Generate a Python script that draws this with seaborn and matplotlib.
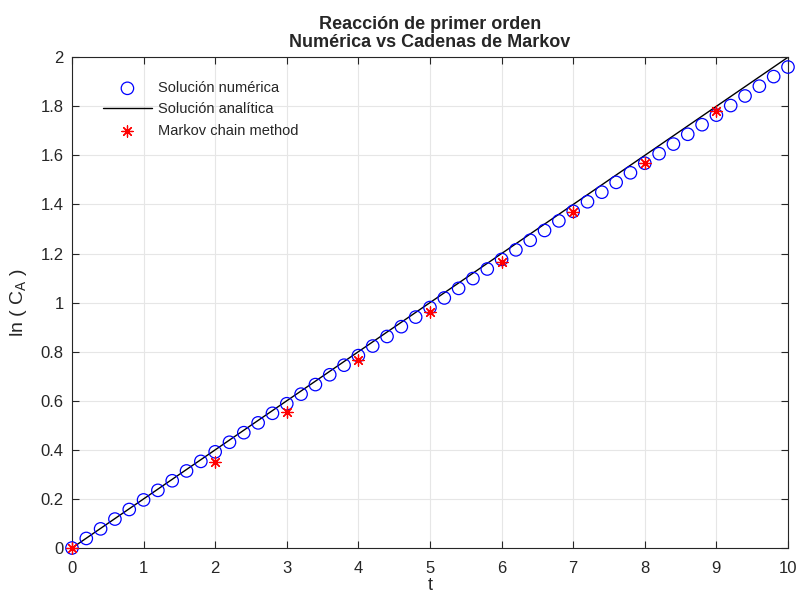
import seaborn as sns
import matplotlib.pyplot as plt
import pandas as pd

# numerical solution (t step 0.2)
t_num = [round(0.2 * i, 1) for i in range(51)]
ln_num = [0.000, 0.039, 0.078, 0.118, 0.157, 0.196, 0.235, 0.274, 0.314, 0.353,
          0.392, 0.431, 0.470, 0.510, 0.549, 0.588, 0.627, 0.666, 0.706, 0.745,
          0.784, 0.823, 0.862, 0.902, 0.941, 0.980, 1.019, 1.058, 1.098, 1.137,
          1.176, 1.215, 1.254, 1.294, 1.333, 1.372, 1.411, 1.450, 1.490, 1.529,
          1.568, 1.607, 1.646, 1.686, 1.725, 1.764, 1.803, 1.842, 1.882, 1.921,
          1.960]

# analytic solution
t_ana = [0, 2, 4, 6, 8, 10]
ln_ana = [0.0, 0.4, 0.8, 1.2, 1.6, 2.0]

# markov chain method
t_mk = [0, 2, 3, 4, 5, 6, 7, 8, 9]
ln_mk = [0.0, 0.352, 0.555, 0.765, 0.962, 1.165, 1.37, 1.568, 1.78]

num = pd.DataFrame({'t': t_num, 'ln': ln_num})
ana = pd.DataFrame({'t': t_ana, 'ln': ln_ana})
mk = pd.DataFrame({'t': t_mk, 'ln': ln_mk})

sns.set_style('whitegrid')
plt.rcParams['font.family'] = ['Liberation Sans', 'DejaVu Sans']

fig, ax = plt.subplots(figsize=(7.97, 5.96), dpi=100)
fig.subplots_adjust(left=0.0903, right=0.9887, top=0.904, bottom=0.0805)

sns.scatterplot(data=num, x='t', y='ln', ax=ax, marker='o', s=80,
                facecolors='none', edgecolor='#0000ff', linewidth=0.9,
                label='Solución numérica', zorder=3, clip_on=False)
sns.lineplot(data=ana, x='t', y='ln', ax=ax, color='black', linewidth=1.0,
             label='Solución analítica', zorder=2)
sns.scatterplot(data=mk, x='t', y='ln', ax=ax, marker=(8, 2, 0), s=65,
                color='#ff0000', edgecolor='#ff0000', linewidth=0.9,
                label='Markov chain method', zorder=4, clip_on=False)

ax.set_xlim(0, 10)
ax.set_ylim(0, 2)
ax.set_xticks(range(0, 11))
yt = [0, 0.2, 0.4, 0.6, 0.8, 1, 1.2, 1.4, 1.6, 1.8, 2]
ax.set_yticks(yt)
ax.set_yticklabels(['0', '0.2', '0.4', '0.6', '0.8', '1', '1.2', '1.4', '1.6', '1.8', '2'])
ax.tick_params(direction='in', length=5, labelsize=12, colors='#262626',
               top=True, right=True, bottom=True, left=True)
ax.tick_params(axis='x', pad=9)
ax.tick_params(axis='y', pad=6)
ax.grid(True, color='#e6e6e6', linewidth=0.8)
for s in ax.spines.values():
    s.set_color('#262626')
    s.set_linewidth(0.8)

ax.set_title('Reacción de primer orden\nNumérica vs Cadenas de Markov',
             fontsize=13, fontweight='bold', pad=7, linespacing=1.15)
ax.set_xlabel('t', fontsize=13, labelpad=1)
ax.set_ylabel(r'ln ( C$_\mathregular{A}$ )', fontsize=14, labelpad=8)

leg = ax.legend(loc='upper left', frameon=False, fontsize=10.5,
                bbox_to_anchor=(0.025, 0.978), handlelength=3.35,
                handletextpad=0.4, labelspacing=0.5)

fig.savefig('out.png', dpi=100)
